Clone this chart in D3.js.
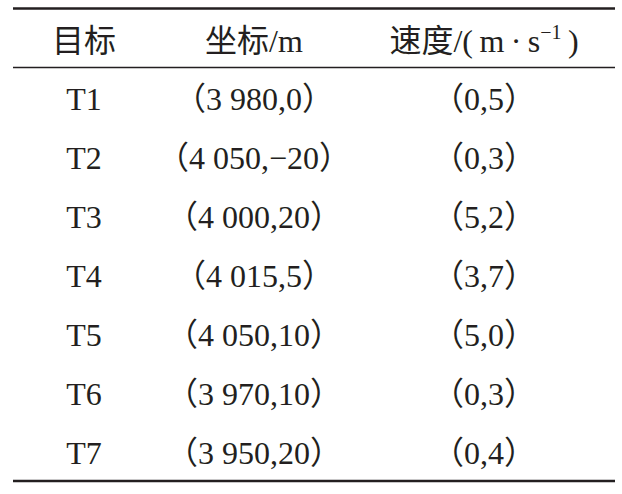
<!DOCTYPE html>
<html>
<head>
<meta charset="utf-8">
<script src="https://cdn.jsdelivr.net/npm/d3@7"></script>
<style>
body { margin: 0; background: #fff; }
text { font-family: "Liberation Serif", "Noto Sans CJK SC", serif; fill: #231f20; }
</style>
</head>
<body>
<script>
// table content
var headers = ["目标", "坐标/m", "速度"];
var targets = ["T1", "T2", "T3", "T4", "T5", "T6", "T7"];
var posX = [3980, 4050, 4000, 4015, 4050, 3970, 3950];
var posY = [0, -20, 20, 5, 10, 10, 20];
var velX = [0, 0, 5, 3, 5, 0, 0];
var velY = [5, 3, 2, 7, 0, 3, 4];

var W = 622, H = 494;
var svg = d3.select("body").append("svg").attr("width", W).attr("height", H);

var fmt = d3.formatLocale({ decimal: ".", thousands: " ", grouping: [3], currency: ["", ""], minus: "\u2212" }).format(",");

var rows = targets.map(function (t, i) {
	return {
		target: t,
		coord: "（" + fmt(posX[i]) + "," + fmt(posY[i]) + "）",
		speed: "（" + velX[i] + "," + velY[i] + "）"
	};
});

var colX = d3.scaleOrdinal().domain(["target", "coord", "speed"]).range([84, 254, 484]);
var rowY = d3.scalePoint().domain(targets).range([110, 464]);

var fs = 32;

// rules
svg.append("line").attr("x1", 13).attr("x2", 615).attr("y1", 8.5).attr("y2", 8.5)
	.attr("stroke", "#231f20").attr("stroke-width", 2.5);
svg.append("line").attr("x1", 13).attr("x2", 615).attr("y1", 67.5).attr("y2", 67.5)
	.attr("stroke", "#231f20").attr("stroke-width", 1.5);
svg.append("line").attr("x1", 13).attr("x2", 615).attr("y1", 481).attr("y2", 481)
	.attr("stroke", "#231f20").attr("stroke-width", 2.5);

// header
svg.append("text").attr("x", colX("target")).attr("y", 52).attr("text-anchor", "middle")
	.attr("font-size", fs).text(headers[0]);
svg.append("text").attr("x", colX("coord")).attr("y", 52).attr("text-anchor", "middle")
	.attr("font-size", fs).text(headers[1]);
var sp = svg.append("text").attr("x", colX("speed")).attr("y", 52).attr("text-anchor", "middle")
	.attr("font-size", fs);
sp.append("tspan").text(headers[2] + "/(\u2009m\u2009·\u2009s");
sp.append("tspan").attr("font-size", 20).attr("dy", -13).text("\u22121");
sp.append("tspan").attr("dy", 13).text("\u2009)");

// body
var g = svg.selectAll("g.row").data(rows).enter().append("g").attr("class", "row");
["target", "coord", "speed"].forEach(function (k) {
	g.append("text")
		.attr("x", colX(k))
		.attr("y", function (d) { return rowY(d.target); })
		.attr("text-anchor", "middle")
		.attr("font-size", fs)
		.text(function (d) { return d[k]; });
});
</script>
</body>
</html>
